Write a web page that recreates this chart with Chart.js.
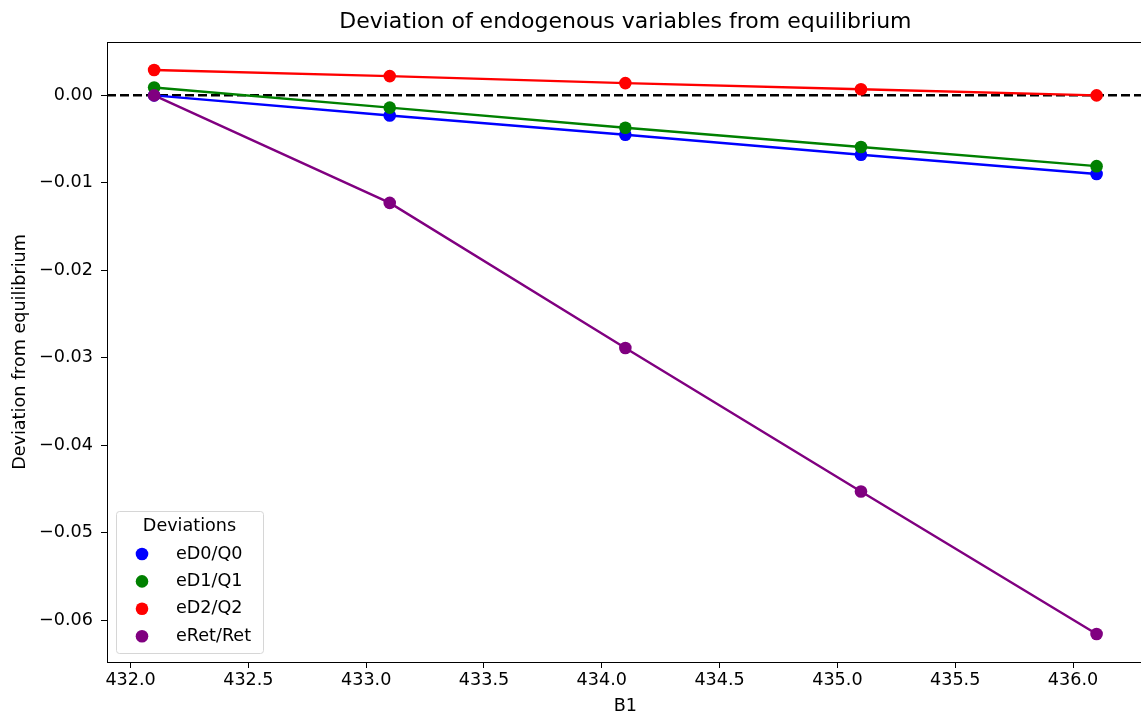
<!DOCTYPE html>
<html>
<head>
<meta charset="utf-8">
<script src="https://cdn.jsdelivr.net/npm/chart.js@4"></script>
<style>
  html, body { margin: 0; padding: 0; overflow: hidden; background: #fff; }
  #wrap { width: 1150px; height: 717px; position: relative; }
</style>
</head>
<body>
<div id="wrap"><canvas id="dev-chart"></canvas></div>
<script>
// Deviation of endogenous variables from equilibrium

var B1Values = [432.1, 433.1, 434.1, 435.1, 436.1];

var eD0Q0 = [0.0, -0.0023, -0.0045, -0.0068, -0.0090];
var eD1Q1 = [0.0009, -0.0014, -0.0037, -0.0059, -0.0081];
var eD2Q2 = [0.0029, 0.0022, 0.0014, 0.0007, 0.0];
var eRetRet = [0.0, -0.0123, -0.0289, -0.0453, -0.0616];

var seriesLabels = ['eD0/Q0', 'eD1/Q1', 'eD2/Q2', 'eRet/Ret'];
var seriesColors = ['#0000ff', '#008000', '#ff0000', '#800080'];

var xTicks = [432.0, 432.5, 433.0, 433.5, 434.0, 434.5, 435.0, 435.5, 436.0];
var yTicks = [0.00, -0.01, -0.02, -0.03, -0.04, -0.05, -0.06];

var FONT = "'DejaVu Sans', sans-serif";
var FS = 17.6;

function toPoints(ys) {
	return ys.map(function(y, i) { return { x: B1Values[i], y: y }; });
}

var allSeries = [eD0Q0, eD1Q1, eD2Q2, eRetRet];
var datasets = allSeries.map(function(ys, i) {
	return {
		label: seriesLabels[i],
		data: toPoints(ys),
		showLine: true,
		borderColor: seriesColors[i],
		backgroundColor: seriesColors[i],
		borderWidth: 2.4,
		pointRadius: 6.3,
		pointHoverRadius: 6.3,
		pointBorderWidth: 0,
		order: 3 - i
	};
});

// frame, zero line, title and legend box like matplotlib
var extrasPlugin = {
	id: 'extras',
	beforeDatasetsDraw: function(chart) {
		var ctx = chart.ctx, a = chart.chartArea;
		var y0 = chart.scales.y.getPixelForValue(0);
		ctx.save();
		ctx.strokeStyle = '#000';
		ctx.lineWidth = 2.5;
		ctx.setLineDash([9, 4]);
		ctx.beginPath();
		ctx.moveTo(a.left, y0);
		ctx.lineTo(a.right, y0);
		ctx.stroke();
		ctx.restore();
	},
	afterDraw: function(chart) {
		var ctx = chart.ctx, a = chart.chartArea;
		ctx.save();
		ctx.strokeStyle = '#000';
		ctx.lineWidth = 1;
		ctx.strokeRect(a.left + 0.5, a.top + 0.5, a.right - a.left - 1, a.bottom - a.top);

		// title
		ctx.fillStyle = '#000';
		ctx.font = '22px ' + FONT;
		ctx.textAlign = 'center';
		ctx.textBaseline = 'middle';
		ctx.fillText('Deviation of endogenous variables from equilibrium', (a.left + a.right) / 2, 22);

		// legend
		var lx = 116, ly = 511, lw = 147, lh = 142;
		ctx.fillStyle = 'rgba(255,255,255,0.8)';
		ctx.strokeStyle = '#d6d6d6';
		ctx.lineWidth = 1;
		ctx.beginPath();
		ctx.roundRect(lx + 0.5, ly + 0.5, lw, lh, 3);
		ctx.fill();
		ctx.stroke();
		ctx.fillStyle = '#000';
		ctx.font = FS + 'px ' + FONT;
		ctx.textAlign = 'center';
		ctx.fillText('Deviations', lx + lw / 2, ly + 15);
		ctx.textAlign = 'left';
		seriesLabels.forEach(function(lab, i) {
			var yy = ly + 43 + i * 27.4;
			ctx.fillStyle = seriesColors[i];
			ctx.beginPath();
			ctx.arc(lx + 26, yy, 6.3, 0, Math.PI * 2);
			ctx.fill();
			ctx.fillStyle = '#000';
			ctx.fillText(lab, lx + 60, yy);
		});
		ctx.restore();
	}
};

window.addEventListener('load', function() {
	var ctx = document.getElementById('dev-chart').getContext('2d');
	new Chart(ctx, {
		type: 'scatter',
		data: { datasets: datasets },
		options: {
			responsive: true,
			maintainAspectRatio: false,
			animation: false,
			layout: { padding: { left: 0, top: 42, right: 3, bottom: 0 } },
			plugins: {
				legend: { display: false },
				tooltip: { enabled: false }
			},
			scales: {
				x: {
					type: 'linear',
					min: 431.9,
					max: 436.3,
					afterFit: function(scale) { scale.height = 55; },
					afterBuildTicks: function(scale) {
						scale.ticks = xTicks.map(function(v) { return { value: v }; });
					},
					ticks: {
						color: '#000',
						font: { family: FONT, size: FS },
						padding: 2,
						maxRotation: 0,
						callback: function(v) { return Number(v).toFixed(1); }
					},
					grid: { drawOnChartArea: false, drawTicks: true, tickLength: 6, color: '#000' },
					border: { display: true, color: '#000' },
					title: {
						display: true,
						text: 'B1',
						color: '#000',
						font: { family: FONT, size: FS },
						padding: { top: 2, bottom: 0 }
					}
				},
				y: {
					type: 'linear',
					min: -0.0648,
					max: 0.0061,
					afterFit: function(scale) { scale.width = 107; },
					afterBuildTicks: function(scale) {
						scale.ticks = yTicks.map(function(v) { return { value: v }; });
					},
					ticks: {
						color: '#000',
						font: { family: FONT, size: FS },
						padding: 8,
						callback: function(v) {
							var s = Math.abs(v).toFixed(2);
							return v < -1e-9 ? '\u2212' + s : s;
						}
					},
					grid: { drawOnChartArea: false, drawTicks: true, tickLength: 6, color: '#000' },
					border: { display: true, color: '#000' },
					title: {
						display: true,
						text: 'Deviation from equilibrium',
						color: '#000',
						font: { family: FONT, size: FS },
						padding: { top: 10, bottom: 4 }
					}
				}
			}
		},
		plugins: [extrasPlugin]
	});
});
</script>
</body>
</html>
